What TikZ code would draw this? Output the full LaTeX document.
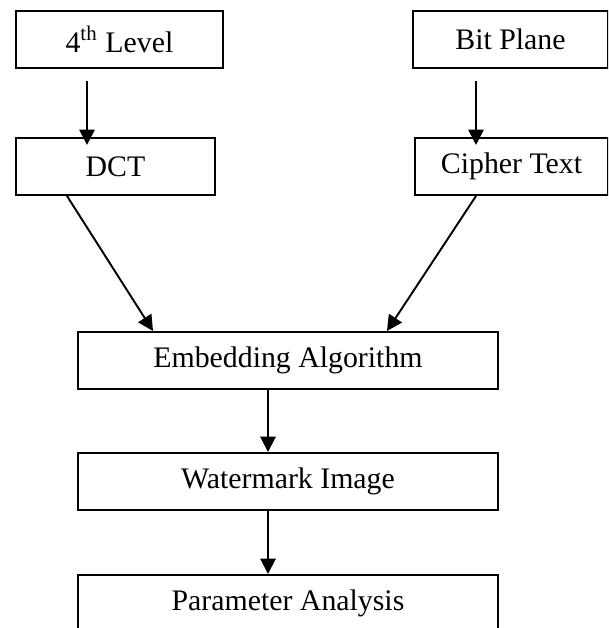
\documentclass[tikz,border=0pt]{standalone}
\usepackage{fontspec}
\setmainfont{Liberation Serif}
\usetikzlibrary{positioning, arrows.meta}

\begin{document}
\begin{tikzpicture}[
    x=0.389pt,
    y=-0.389pt,
    box/.style={
        draw,
        line width=0.75pt,
        anchor=north west,
        minimum height=22.2pt,
        inner sep=0pt,
        align=center,
        font=\fontsize{11.6}{14}\selectfont
    },
    widebox/.style={
        box,
        minimum width=163.4pt
    },
    arr/.style={
        -{Triangle[length=6pt, width=6pt]},
        line width=0.75pt
    }
]

\clip (0,0) rectangle (608,628);

% Two input branches
\node[box, minimum width=80.5pt] (lvl) at (15,10) {4\textsuperscript{th} Level};
\node[box, minimum width=77.4pt] (dct) at (15,137) {DCT};

\node[box, minimum width=75.9pt] (bit) at (412,10) {Bit Plane};
\node[box, minimum width=75.1pt] (cipher) at (414,137) {Cipher Text};

% Main vertical flow
\node[widebox] (embed) at (77,331) {Embedding Algorithm};
\node[widebox] (mark) at (77,452) {Watermark Image};
\node[widebox] (param) at (77,574) {Parameter Analysis};

% Arrow columns
\coordinate (lcol) at (87,0);
\coordinate (rcol) at (476,0);
\coordinate (mcol) at (268,0);
\coordinate (dfoot) at (67,0);
\coordinate (dtip) at (153,0);
\coordinate (ctip) at (387,0);

% Connections
\draw[arr, shorten <=4.7pt, shorten >=-3.1pt] (lvl.south -| lcol) -- (dct.north -| lcol);
\draw[arr, shorten <=4.7pt, shorten >=-3.1pt] (bit.south -| rcol) -- (cipher.north -| rcol);

\draw[arr] (dct.south -| dfoot) -- (embed.north -| dtip);
\draw[arr] (cipher.south -| rcol) -- (embed.north -| ctip);

\draw[arr] (embed.south -| mcol) -- (mark.north -| mcol);
\draw[arr] (mark.south -| mcol) -- (param.north -| mcol);

\end{tikzpicture}
\end{document}
